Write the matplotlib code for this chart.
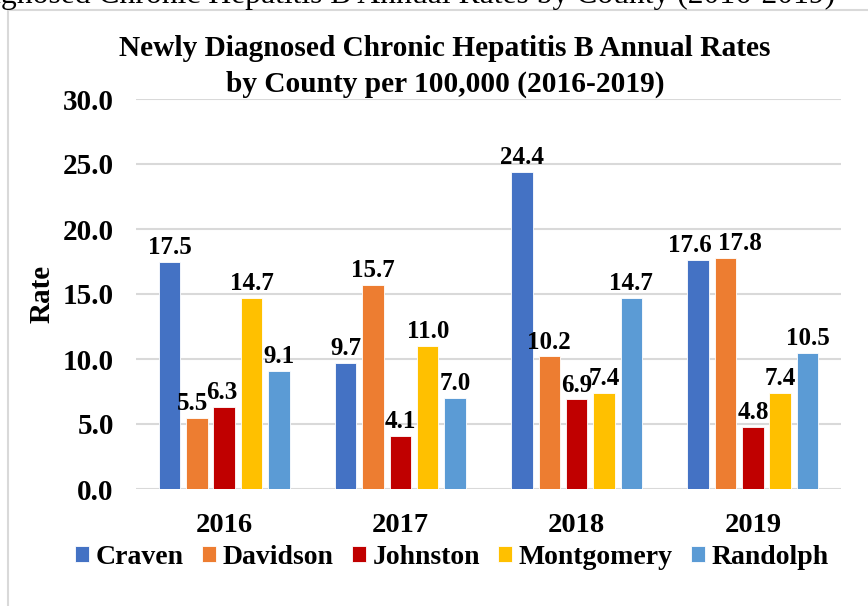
import matplotlib
matplotlib.use("Agg")
import matplotlib.pyplot as plt
import numpy as np
from matplotlib.patches import Rectangle

years = ["2016", "2017", "2018", "2019"]
counties = ["Craven", "Davidson", "Johnston", "Montgomery", "Randolph"]
craven = [17.5, 9.7, 24.4, 17.6]
davidson = [5.5, 15.7, 10.2, 17.8]
johnston = [6.3, 4.1, 6.9, 4.8]
montgomery = [14.7, 11.0, 7.4, 7.4]
randolph = [9.1, 7.0, 14.7, 10.5]
series = [craven, davidson, johnston, montgomery, randolph]
colors = ["#4472C4", "#ED7D31", "#C00000", "#FFC000", "#5B9BD5"]
yticks = [0, 5, 10, 15, 20, 25, 30]

# label nudges (series index, year index) -> x offset in points
nudges = {(0, 3): -6, (1, 3): 10, (1, 0): -3, (2, 0): -2}

plt.rcParams['font.family'] = ['Liberation Serif', 'DejaVu Serif']
plt.rcParams['font.weight'] = 'bold'

W, H = 868, 606
fig = plt.figure(figsize=(W / 100, H / 100), dpi=100)

# page text cut at the top
fig.text(835 / W, 1 - 3 / H, "Newly Diagnosed Chronic Hepatitis B Annual Rates by County (2016-2019)",
         ha='right', va='baseline', fontsize=22.8, fontweight='normal', color='black')

# chart frame
fig.patches.append(Rectangle((8 / W, -0.1), 1.2, 1 - 10 / H + 0.1, transform=fig.transFigure,
                             fill=False, edgecolor='#D9D9D9', linewidth=1.5))

ax = fig.add_axes([136 / W, 1 - 489 / H, (841 - 136) / W, (489 - 99) / H])
x = np.arange(len(years))
bw = 0.122
step = 0.155
for i, (name, vals, c) in enumerate(zip(counties, series, colors)):
    pos = x + (i - 2) * step
    bars = ax.bar(pos, vals, width=bw, color=c, label=name, zorder=3,
                  edgecolor='white', linewidth=0.6)
    for j, (b, v) in enumerate(zip(bars, vals)):
        ax.annotate(f"{v:.1f}", (b.get_x() + b.get_width() / 2, v),
                    xytext=(nudges.get((i, j), 0), 2),
                    textcoords='offset points', ha='center', va='bottom',
                    fontsize=18, fontweight='bold')

ax.set_xlim(-0.5, len(years) - 0.5)
ax.set_ylim(0, 30)
ax.set_yticks(yticks)
ax.set_yticklabels([f"{t:.1f}" for t in yticks], fontsize=21, fontweight='bold')
ax.set_xticks(x)
ax.set_xticklabels(years, fontsize=20.5, fontweight='bold')
ax.tick_params(axis='both', length=0)
ax.tick_params(axis='x', pad=17)
ax.tick_params(axis='y', pad=16)
ax.grid(axis='y', color='#D9D9D9', linewidth=1.5, zorder=0)
for s in ax.spines.values():
    s.set_visible(False)
ax.set_ylabel("Rate", fontsize=21, fontweight='bold', labelpad=5)

fig.text(445 / W, 1 - 48 / H, "Newly Diagnosed Chronic Hepatitis B Annual Rates",
         ha='center', va='center', fontsize=21.2, fontweight='bold')
fig.text(445 / W, 1 - 84 / H, "by County per 100,000 (2016-2019)",
         ha='center', va='center', fontsize=21.2, fontweight='bold')

leg = fig.legend(loc='center', bbox_to_anchor=(452 / W, 1 - 557 / H), ncol=5, frameon=False,
                 prop={'size': 20, 'weight': 'bold'}, handlelength=0.5, handleheight=0.5,
                 handletextpad=0.25, columnspacing=0.65, borderaxespad=0, borderpad=0)

fig.savefig("out.png", dpi=100)
